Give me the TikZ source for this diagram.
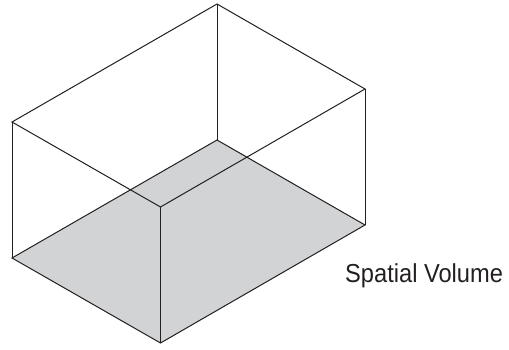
\documentclass[tikz,border=0pt]{standalone}
\usepackage{fontspec}
\setmainfont{Liberation Sans}
\usetikzlibrary{positioning}
\definecolor{floorgray}{HTML}{D1D3D4}
\definecolor{edgeblack}{HTML}{231F20}

\begin{document}
\begin{tikzpicture}[
  x=1pt, y=-1pt,
  font=\fontsize{26}{30}\selectfont,
  edge/.style={draw=edgeblack, line width=1pt, line join=miter},
  floorface/.style={fill=floorgray},
  caption/.style={text=edgeblack, anchor=base west, inner sep=0pt, xscale=0.91},
]
  \useasboundingbox (0,0) rectangle (509,350);
  % top corners
  \coordinate (top-back) at (217,4);
  \coordinate (top-left) at (12,122);
  \coordinate (top-front) at (160.5,207);
  \coordinate (top-right) at (365,89);
  % floor corners
  \coordinate (floor-back) at (217,140);
  \coordinate (floor-left) at (12,258);
  \coordinate (floor-front) at (160.5,343);
  \coordinate (floor-right) at (365,225);

  \fill[floorface] (floor-back) -- (floor-right) -- (floor-front) -- (floor-left) -- cycle;
  \draw[edge] (floor-back) -- (floor-right) -- (floor-front) -- (floor-left) -- cycle;
  \draw[edge] (top-back) -- (top-right) -- (top-front) -- (top-left) -- cycle;
  \draw[edge] (top-back) -- (floor-back);
  \draw[edge] (top-left) -- (floor-left);
  \draw[edge] (top-front) -- (floor-front);
  \draw[edge] (top-right) -- (floor-right);

  \node[caption] (volume-label) at (345,282) {Spatial Volume};
\end{tikzpicture}
\end{document}
